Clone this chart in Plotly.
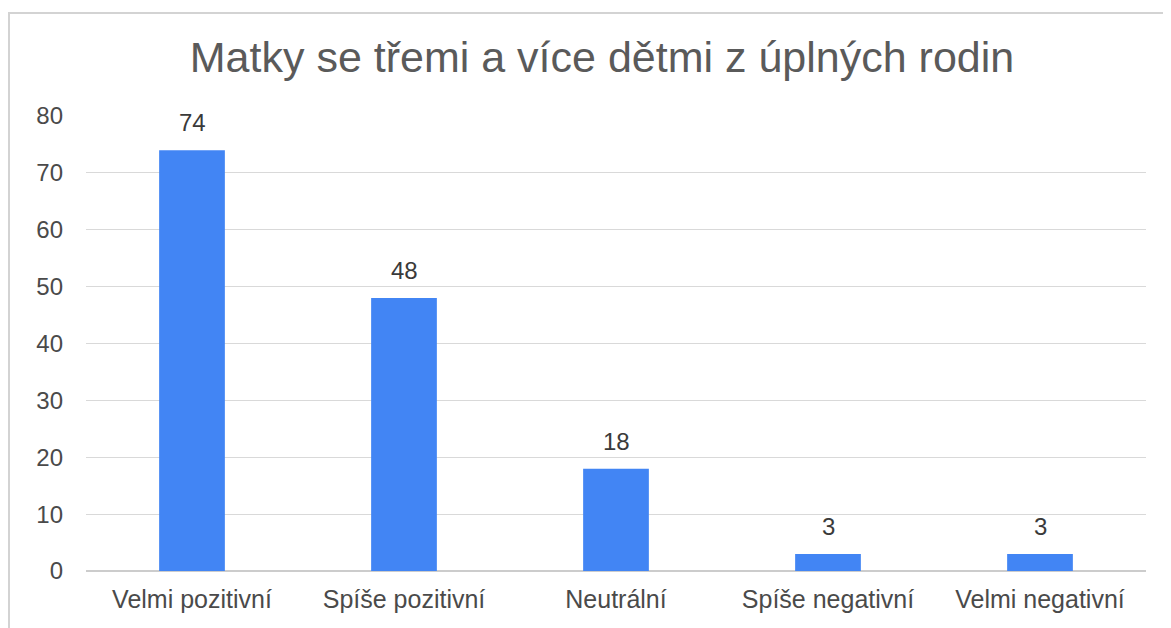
import plotly.graph_objects as go

categories = ["Velmi pozitivní", "Spíše pozitivní", "Neutrální", "Spíše negativní", "Velmi negativní"]
values = [74, 48, 18, 3, 3]
y_ticks = [0, 10, 20, 30, 40, 50, 60, 70, 80]
title_text = "Matky se třemi a více dětmi z úplných rodin"

# page body adds ~8px offset; figure sized to fit the window
OFF = 8
W, H = 1163, 620
ML, MR, MT, MB = 78, 25, 108, 57
PW, PH = W - ML - MR, H - MT - MB

fig = go.Figure()
fig.add_trace(go.Bar(
    x=categories, y=values,
    marker=dict(color="#4285F4", line=dict(width=0)),
    width=0.31,
    hoverinfo="x+y",
))

for c, v in zip(categories, values):
    fig.add_annotation(x=c, y=v, text=str(v), showarrow=False,
                       yanchor="bottom", yshift=12,
                       font=dict(family="Liberation Sans, Arial", size=24, color="#3a3a3a"))

# chart border (decorative frame)
fig.add_shape(type="rect", xref="paper", yref="paper",
              x0=(1 - ML) / PW, x1=(1161 - ML) / PW,
              y0=-(MB + 20) / PH, y1=1 + (MT - 5) / PH,
              line=dict(color="#d3d3d3", width=2), fillcolor="rgba(0,0,0,0)", layer="below")

fig.update_layout(
    width=W, height=H,
    margin=dict(l=ML, r=MR, t=MT, b=MB),
    paper_bgcolor="white", plot_bgcolor="white",
    showlegend=False,
    title=dict(text=title_text, x=(602 - OFF) / W, xanchor="center", xref="container",
               y=1 - (57 - OFF) / H, yanchor="middle", yref="container",
               font=dict(family="Liberation Sans, Arial", size=43, color="#5a5a5a")),
    xaxis=dict(showgrid=False, showline=False, ticks="",
               tickfont=dict(family="Liberation Sans, Arial", size=25, color="#4a4a4a"),
               ticklabelstandoff=11),
    yaxis=dict(range=[0, 80], tickvals=y_ticks, showgrid=True, gridcolor="#d9d9d9", gridwidth=1,
               zeroline=True, zerolinecolor="#cccccc", zerolinewidth=2,
               showline=False, ticks="",
               tickfont=dict(family="Liberation Sans, Arial", size=24, color="#4a4a4a"),
               ticklabelstandoff=22),
    font=dict(family="Liberation Sans, Arial"),
)

fig.write_html("out.html")
